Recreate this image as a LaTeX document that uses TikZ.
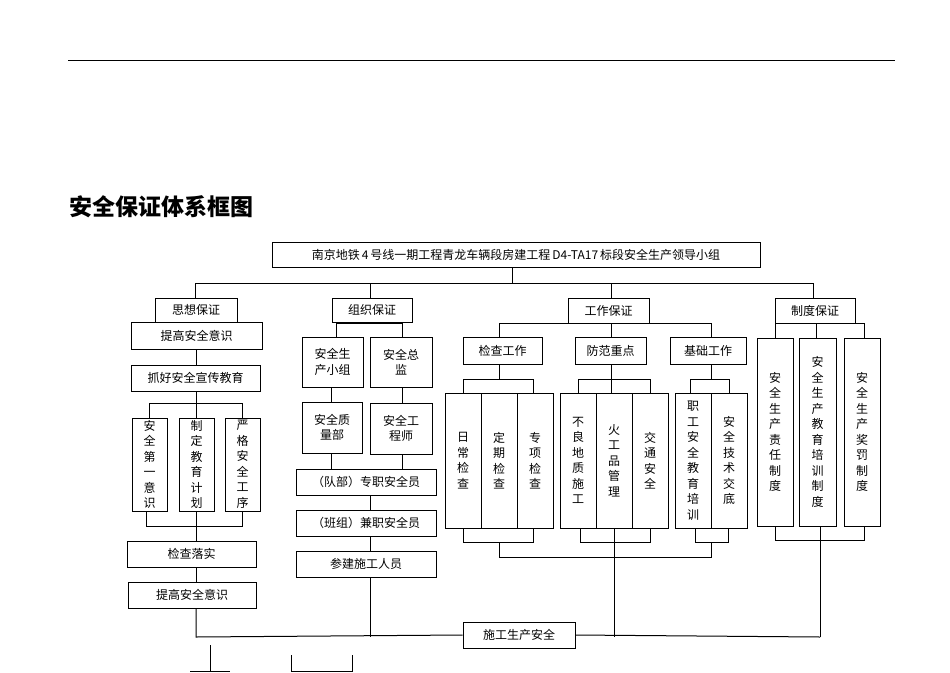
\documentclass[tikz,border=0pt]{standalone}
\usepackage{fontspec}
\newfontfamily\cjk{Noto Sans CJK SC}
\begin{document}
\begin{tikzpicture}[x=1pt,y=-1pt,
  box/.style={draw,line width=1pt,inner sep=0pt,font=\cjk\fontsize{12}{14}\selectfont},
  vbox/.style={box,align=center,font=\cjk\fontsize{12}{15.5}\selectfont},
  ln/.style={line width=1pt}]
\useasboundingbox (0,0) rectangle (950,672);
\newcommand\bx[7][box]{\pgfmathsetmacro\bcx{(#3+#5)/2}\pgfmathsetmacro\bcy{(#4+#6)/2}\pgfmathsetmacro\bww{#5-#3}\pgfmathsetmacro\bhh{#6-#4}\node[#1,minimum width=\bww pt,minimum height=\bhh pt] (#2) at (\bcx,\bcy) {#7};}
\draw[line width=0.8pt] (68,60) -- (895,60);
\node[anchor=west,font=\cjk\bfseries\fontsize{23}{26}\selectfont] (title) at (66,207) {安全保证体系框图};
\bx{lead}{272}{242}{760}{267}{南京地铁\,4\,号线一期工程青龙车辆段房建工程\,D4-TA17\,标段安全生产领导小组}
\draw[ln] (512,267) -- (512,283);
\draw[ln] (195,298) -- (195,283) -- (813,283) -- (813,298);
\draw[ln] (370,283) -- (370,298); \draw[ln] (611,283) -- (611,298);
% column 1
\bx{c1}{155}{298}{237}{322}{思想保证}
\bx{a1}{131}{322}{262}{349}{提高安全意识}
\draw[ln] (196,349) -- (196,365);
\bx{a2}{131}{365}{260}{391}{抓好安全宣传教育}
\draw[ln] (196,391) -- (196,418);
\draw[ln] (149,418) -- (149,403) -- (242,403) -- (242,418);
\bx[vbox]{v11}{132}{418}{167}{511}{安\\全\\第\\一\\意\\识}
\bx[vbox]{v12}{179}{418}{214}{511}{制\\定\\教\\育\\计\\划}
\bx[vbox]{v13}{225}{418}{260}{511}{严\\格\\安\\全\\工\\序}
\draw[ln] (146,511) -- (146,526) -- (242,526) -- (242,511);
\draw[ln] (196,511) -- (196,541);
\bx{a3}{127}{541}{256}{567}{检查落实}
\draw[ln] (196,567) -- (196,582);
\bx{a4}{128}{582}{256}{608}{提高安全意识}
% column 2
\bx{c2}{332}{298}{412}{322}{组织保证}
\draw[ln] (336,337) -- (336,323) -- (402,323) -- (402,337);
\bx[vbox]{b1}{302}{337}{363}{387}{安全生\\产小组}
\bx[vbox]{b2}{370}{337}{432}{387}{安全总\\监}
\draw[ln] (331,387) -- (331,402); \draw[ln] (402,387) -- (402,403);
\bx[vbox]{b3}{302}{402}{362}{453}{安全质\\量部}
\bx[vbox]{b4}{370}{403}{432}{454}{安全工\\程师}
\draw[ln] (331,453) -- (331,469); \draw[ln] (402,454) -- (402,469);
\bx{b5}{296}{469}{436}{495}{（队部）专职安全员}
\draw[ln] (370,495) -- (370,510);
\bx{b6}{296}{510}{436}{536}{（班组）兼职安全员}
\draw[ln] (370,536) -- (370,551);
\bx{b7}{296}{551}{436}{577}{参建施工人员}
% column 3
\bx{c3}{568}{298}{649}{323}{工作保证}
\draw[ln] (499,337) -- (499,323) -- (711,323) -- (711,337);
\draw[ln] (611,323) -- (611,337);
\bx{d1}{463}{337}{542}{364}{检查工作}
\bx{d2}{575}{337}{646}{364}{防范重点}
\bx{d3}{670}{337}{746}{364}{基础工作}
\draw[ln] (499,364) -- (499,379); \draw[ln] (463,393) -- (463,379) -- (533,379) -- (533,393);
\draw[ln] (611,364) -- (611,393); \draw[ln] (578,393) -- (578,379) -- (650,379) -- (650,393);
\draw[ln] (711,364) -- (711,379); \draw[ln] (690,393) -- (690,379) -- (729,379) -- (729,393);
\bx[vbox]{e1}{445}{393}{481}{528}{日\\常\\检\\查}
\bx[vbox]{e2}{481}{393}{517}{528}{定\\期\\检\\查}
\bx[vbox]{e3}{517}{393}{553}{528}{专\\项\\检\\查}
\bx[vbox]{e4}{560}{393}{596}{528}{不\\良\\地\\质\\施\\工}
\bx[vbox]{e5}{596}{393}{632}{528}{火\\工\\品\\管\\理}
\bx[vbox]{e6}{632}{393}{668}{528}{交\\通\\安\\全}
\bx[vbox]{e7}{675}{393}{711}{528}{职\\工\\安\\全\\教\\育\\培\\训}
\bx[vbox]{e8}{711}{393}{747}{528}{安\\全\\技\\术\\交\\底}
\draw[ln] (463,528) -- (463,542) -- (533,542) -- (533,528);
\draw[ln] (580,528) -- (580,542) -- (650,542) -- (650,528);
\draw[ln] (695,528) -- (695,542) -- (728,542) -- (728,528);
\draw[ln] (499,542) -- (499,557) -- (711,557) -- (711,542);
\draw[ln] (614,528) -- (614,637);
% column 4
\bx{c4}{775}{298}{855}{323}{制度保证}
\draw[ln] (775,338) -- (775,323) -- (864,323) -- (864,338);
\draw[ln] (816,323) -- (816,338);
\bx[vbox]{f1}{757}{338}{793}{526}{安\\全\\生\\产\\责\\任\\制\\度}
\bx[vbox]{f2}{799}{338}{836}{526}{安\\全\\生\\产\\教\\育\\培\\训\\制\\度}
\bx[vbox]{f3}{844}{338}{880}{526}{安\\全\\生\\产\\奖\\罚\\制\\度}
\draw[ln] (775,526) -- (775,540) -- (864,540) -- (864,526);
\draw[ln] (820,526) -- (820,637);
% bottom
\bx{g}{463}{622}{575}{648}{施工生产安全}
\draw[ln] (196,608) -- (196,637) -- (g.west);
\draw[ln] (370,577) -- (370,637);
\draw[ln] (g.east) -- (820,637);
\draw[ln] (210,645) -- (210,672); \draw[ln] (190,671.5) -- (230,671.5);
\draw[ln] (291,655) -- (291,671.5) -- (352,671.5) -- (352,655);
\end{tikzpicture}
\end{document}
